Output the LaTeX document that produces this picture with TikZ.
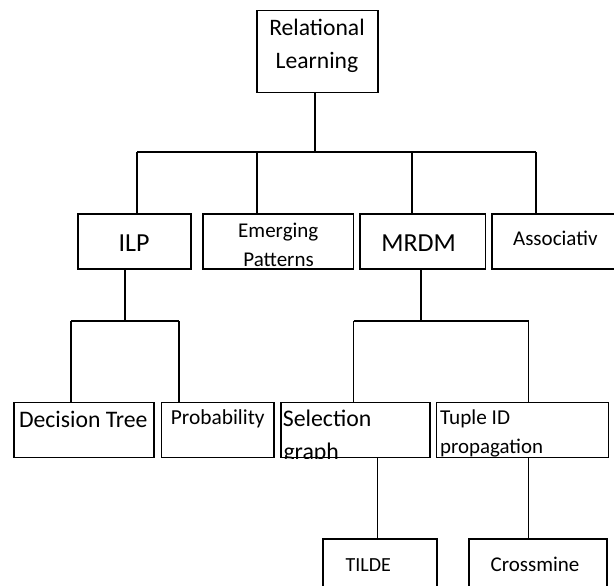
\documentclass[tikz,border=0pt]{standalone}
\usepackage{fontspec}
\setmainfont{Carlito}
\begin{document}
\begin{tikzpicture}[x=1pt,y=-1pt,
  box/.style={draw,line width=1.5pt,inner sep=0pt},
  lbl/.style={inner sep=0pt,anchor=base},
  lblw/.style={inner sep=0pt,anchor=base west},
  conn/.style={line width=1.5pt}]
\useasboundingbox (0,0) rectangle (614,586);
\clip (0,0) rectangle (614,586);
% boxes
\node[box,minimum width=121pt,minimum height=82pt] (root) at (317.5,51.7) {};
\node[box,minimum width=113pt,minimum height=55pt] (ilp) at (134.5,241.5) {};
\node[box,minimum width=150.6pt,minimum height=55pt] (emerg) at (278.3,241.5) {};
\node[box,minimum width=125.5pt,minimum height=55pt] (mrdm) at (422.75,241.5) {};
\node[box,minimum width=148pt,minimum height=55pt] (assoc) at (566,241.5) {};
\node[box,minimum width=140pt,minimum height=55.2pt] (dt) at (84,430.1) {};
\node[box,minimum width=112.3pt,minimum height=55.2pt] (prob) at (217.85,430.1) {};
\node[box,minimum width=149pt,minimum height=55.2pt] (sel) at (355.5,430.1) {};
\node[box,minimum width=171.6pt,minimum height=55.2pt] (tuple) at (522.5,430.1) {};
\node[box,minimum width=114pt,minimum height=81pt] (tilde) at (380,579.5) {};
\node[box,minimum width=138pt,minimum height=81pt] (cross) at (538,579.5) {};
% labels
\node[lbl,font=\fontsize{23.6}{28}\selectfont] (tRel) at (317,35.3) {Relational};
\node[lbl,font=\fontsize{23.6}{28}\selectfont] (tLea) at (317,68.3) {Learning};
\node[lbl,font=\fontsize{26}{30}\selectfont] (tIlp) at (134,251.7) {ILP};
\node[lbl,font=\fontsize{26}{30}\selectfont] (tMrdm) at (418.6,251.7) {MRDM};
\node[lbl,font=\fontsize{21}{25}\selectfont] (tEme) at (278.3,237.3) {Emerging};
\node[lbl,font=\fontsize{21}{25}\selectfont] (tPat) at (278.6,266) {Patterns};
\node[lbl,font=\fontsize{21}{25}\selectfont] (tAss) at (555.3,245) {Associativ};
\node[lbl,font=\fontsize{23.7}{28}\selectfont] (tDt) at (83.3,427.3) {Decision Tree};
\node[lbl,font=\fontsize{21.4}{25}\selectfont] (tProb) at (217.8,424.3) {Probability};
\node[lblw,font=\fontsize{23.8}{28}\selectfont] (tSel) at (282.7,426.7) {Selection};
\begin{scope}
\clip (sel.south west) rectangle (sel.north east);
\node[lblw,font=\fontsize{23.8}{28}\selectfont] (tGra) at (283.3,459.5) {graph};
\end{scope}
\node[lblw,font=\fontsize{21.2}{25}\selectfont] (tTup) at (440,424.3) {Tuple ID};
\node[lblw,font=\fontsize{20.9}{25}\selectfont] (tProp) at (440,453.3) {propagation};
\node[lbl,font=\fontsize{20}{24}\selectfont] (tTil) at (368.2,571.7) {TILDE};
\node[lbl,font=\fontsize{21}{25}\selectfont] (tCro) at (535,571.7) {Crossmine};
% connectors level 1
\coordinate (jr) at (315,152);
\coordinate (b1) at (137,152);
\coordinate (b2) at (257,152);
\coordinate (b3) at (412,152);
\coordinate (b4) at (536,152);
\draw[conn] (jr |- root.south) -- (jr);
\draw[conn] (b1) -- (b4);
\draw[conn] (b1) -- (b1 |- ilp.north);
\draw[conn] (b2) -- (b2 |- emerg.north);
\draw[conn] (b3) -- (b3 |- mrdm.north);
\draw[conn] (b4) -- (b4 |- assoc.north);
% ILP subtree
\coordinate (i0) at (125,321);
\coordinate (i1) at (71,321);
\coordinate (i2) at (179,321);
\draw[conn] (i0 |- ilp.south) -- (i0);
\draw[conn] (i1) -- (i2);
\draw[conn] (i1) -- (i1 |- dt.north);
\draw[conn] (i2) -- (i2 |- prob.north);
% MRDM subtree
\coordinate (m0) at (421,321);
\coordinate (m1) at (353.5,321);
\coordinate (m2) at (528.7,321);
\draw[conn] (m0 |- mrdm.south) -- (m0);
\draw[conn] (m1) -- (m2);
\draw[conn] (m1) -- (m1 |- sel.north);
\draw[conn] (m2) -- (m2 |- tuple.north);
% level 4
\coordinate (t0) at (377.7,500);
\coordinate (c0) at (528.7,500);
\draw[conn] (t0 |- sel.south) -- (t0 |- tilde.north);
\draw[conn] (c0 |- tuple.south) -- (c0 |- cross.north);
\end{tikzpicture}
\end{document}
